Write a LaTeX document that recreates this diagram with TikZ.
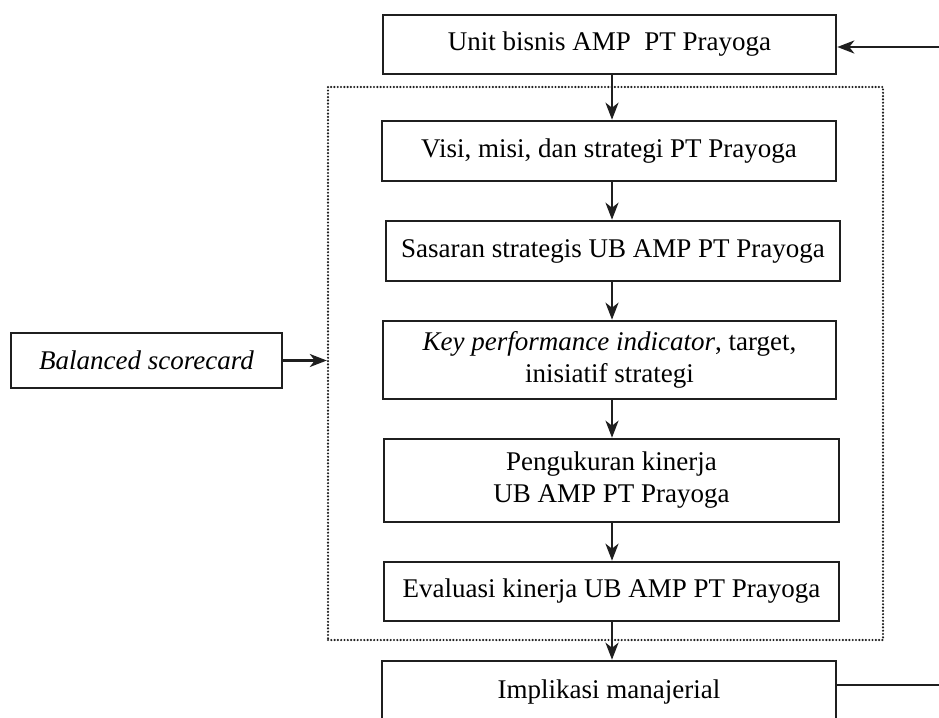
\documentclass[tikz,border=0pt]{standalone}
\usepackage{fontspec}
\setmainfont{Liberation Serif}
\usetikzlibrary{arrows.meta}
\begin{document}
\begin{tikzpicture}[x=1pt,y=-1pt,
  box/.style={draw=black!88, line width=2.6pt, rectangle, inner sep=0pt, align=center,
    font=\fontsize{27}{32}\selectfont},
  conn/.style={line width=2.4pt, draw=black!88, -{Stealth[length=17pt,width=13pt,inset=5pt]}},
  plain/.style={line width=2.4pt, draw=black!88},
  frame/.style={draw=black!88, line width=2.4pt, dash pattern=on 0pt off 3.3pt, line cap=round, inner sep=0pt}]
\useasboundingbox (0,0) rectangle (939,717);
\clip (0,0) rectangle (939,717);
\node[frame, minimum width=555pt, minimum height=553pt] (frm) at (605.5,363.5) {};
\node[box, minimum width=453pt, minimum height=59pt] (unit) at (609.5,44.5) {Unit bisnis AMP\ \ PT Prayoga};
\node[box, minimum width=454pt, minimum height=60pt] (visi) at (609,151) {Visi, misi, dan strategi PT Prayoga};
\node[box, minimum width=454pt, minimum height=60pt] (sas) at (613,251) {Sasaran strategis UB AMP PT Prayoga};
\node[box, minimum width=453pt, minimum height=78pt] (kpi) at (609.5,360) {\textit{Key performance indicator}, target,\\inisiatif strategi};
\node[box, minimum width=455pt, minimum height=83pt] (peng) at (611.5,480.5) {Pengukuran kinerja\\UB AMP PT Prayoga};
\node[box, minimum width=455pt, minimum height=59pt] (eval) at (611.5,591.5) {Evaluasi kinerja UB AMP PT Prayoga};
\node[box, minimum width=454pt, minimum height=62pt] (impl) at (609,692) {Implikasi manajerial};
\node[box, minimum width=271pt, minimum height=55pt] (bsc) at (146.5,360.5) {\textit{Balanced scorecard}};
\coordinate (ax) at (612,0);
\coordinate (fbtop) at (945,47);
\coordinate (fbbot) at (945,685);
\draw[conn] (unit.south -| ax) -- (visi.north -| ax);
\draw[conn] (visi.south -| ax) -- (sas.north -| ax);
\draw[conn] (sas.south -| ax) -- (kpi.north -| ax);
\draw[conn] (kpi.south -| ax) -- (peng.north -| ax);
\draw[conn] (peng.south -| ax) -- (eval.north -| ax);
\draw[conn] (eval.south -| ax) -- (impl.north -| ax);
\draw[conn] (bsc.east) -- (bsc.east -| frm.west);
\draw[conn] (fbtop) -- (fbtop -| unit.east);
\draw[plain] (fbbot -| impl.east) -- (fbbot);
\end{tikzpicture}
\end{document}
